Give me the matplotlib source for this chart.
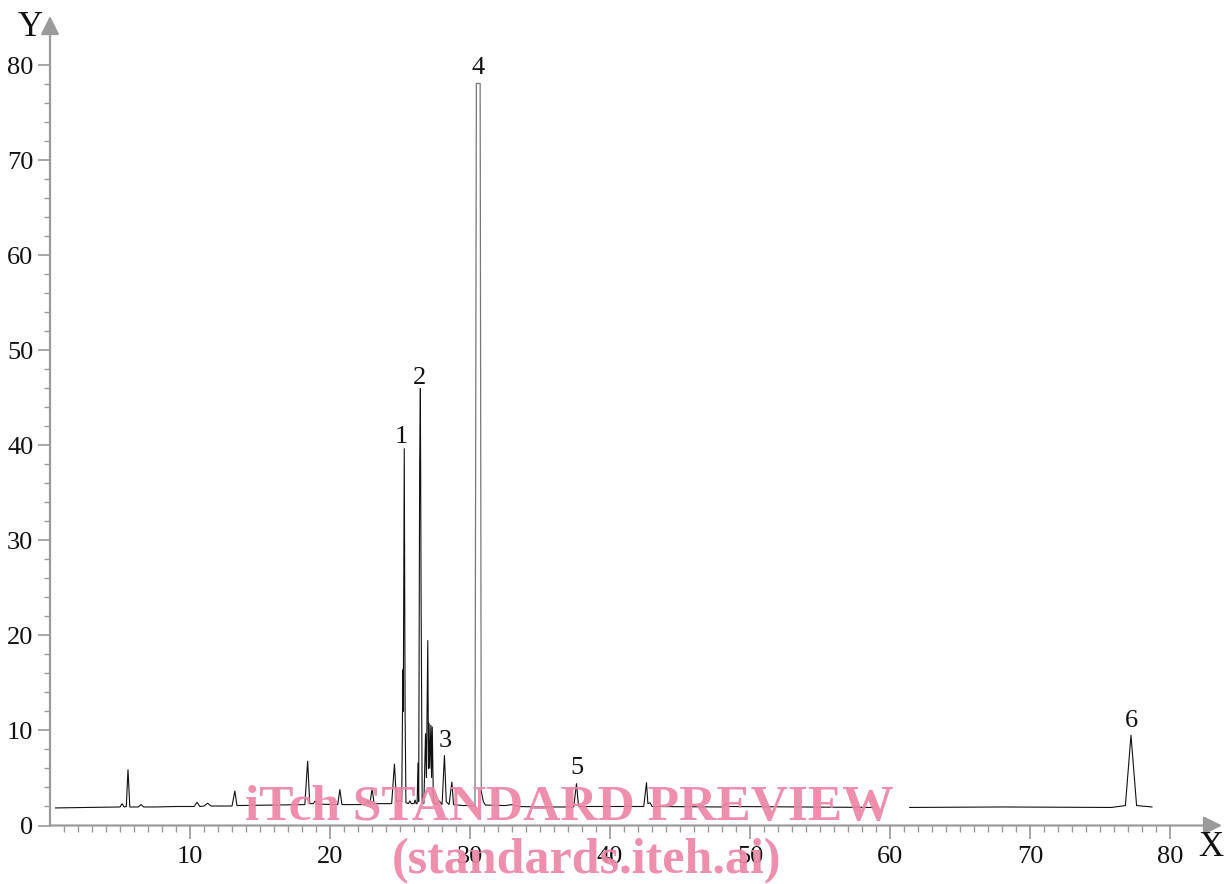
import numpy as np
import matplotlib
matplotlib.use("Agg")
import matplotlib.pyplot as plt
from matplotlib.ticker import MultipleLocator, FixedLocator

# ---- data: chromatogram trace vertices (retention time, response) ----
trace_x = [0.4, 5.0, 5.15, 5.3, 5.45, 5.57, 5.7, 6.3, 6.5, 6.7, 7.5, 9.0, 10.3, 10.5, 10.7,
           11.0, 11.25, 11.5, 13.0, 13.2, 13.35, 18.2, 18.4, 18.55, 18.8, 18.95, 19.1,
           20.55, 20.7, 20.85, 22.5, 22.7, 22.85, 23.0, 23.15, 24.4, 24.6, 24.75, 24.95,
           25.12, 25.2, 25.23, 25.3, 25.36, 25.42, 25.6, 25.7, 25.8, 26.0, 26.07, 26.15,
           26.22, 26.28, 26.33, 26.4, 26.45, 26.5, 26.58, 26.7, 26.82, 26.88, 26.98, 27.03,
           27.07, 27.12, 27.2, 27.25, 27.3, 27.38, 27.6, 27.8, 28.0, 28.17, 28.3, 28.5,
           28.7, 28.82, 29.5, 30.35, 30.45, 30.72, 30.8, 30.95, 31.1, 32.5, 33.0, 33.5,
           35.0, 37.4, 37.6, 37.75, 42.4, 42.6, 42.7, 42.85, 43.0, 48.1, 48.3, 48.45,
           58.8, 59.0, 61.4, 68.0, 75.8, 76.8, 77.2, 77.6, 78.7]
trace_y = [1.85, 1.95, 2.3, 1.95, 2.0, 5.9, 1.95, 1.95, 2.2, 1.95, 1.95, 2.0, 2.0, 2.45, 2.0,
           2.05, 2.35, 2.05, 2.05, 3.65, 2.1, 2.2, 6.8, 2.3, 2.3, 2.6, 2.25,
           2.2, 3.8, 2.2, 2.2, 2.6, 2.3, 3.9, 2.3, 2.3, 6.5, 2.5, 2.6,
           2.5, 16.4, 12.0, 39.7, 11.8, 2.4, 2.3, 2.6, 2.3, 2.3, 2.7, 2.3,
           2.3, 6.6, 2.5, 38.0, 46.0, 24.5, 2.5, 2.3, 9.7, 5.0, 19.5, 6.0,
           10.8, 6.0, 10.6, 5.0, 10.4, 2.5, 2.2, 2.6, 2.2, 7.4, 2.5, 2.2,
           4.6, 2.2, 2.1, 2.1, 78.1, 78.1, 3.6, 2.5, 2.15, 2.1, 2.2, 2.0,
           1.95, 1.95, 4.4, 2.0, 2.0, 4.5, 2.3, 2.4, 2.0, 1.95, 2.4, 2.0,
           1.9, np.nan, 1.9, 1.95, 1.9, 2.1, 9.5, 2.1, 1.95]

peak_labels = ["1", "2", "3", "4", "5", "6"]
peak_label_x = [25.1, 26.4, 28.2, 30.6, 37.6, 77.2]
peak_label_y = [40.9, 47.1, 8.9, 79.7, 6.1, 11.0]

x_major = [10, 20, 30, 40, 50, 60, 70, 80]
y_major = [0, 10, 20, 30, 40, 50, 60, 70, 80]

# ---- figure ----
W, H = 1227, 884
fig = plt.figure(figsize=(W / 100, H / 100), dpi=100)
ax_left, ax_bottom = 50 / W, (H - 825.5) / H
ax_w, ax_h = (1222 - 50) / W, (825.5 - 16) / H
ax = fig.add_axes([ax_left, ax_bottom, ax_w, ax_h])
ax.set_xlim(0, 83.7)
ax.set_ylim(0, 85.2)

serif = ["Liberation Serif", "DejaVu Serif"]
axis_col = "#9a9a9a"

tx = np.array(trace_x)
ty = np.array(trace_y)
m1 = tx <= 30.35
m2 = (tx >= 30.35) & (tx <= 30.8)
m3 = tx >= 30.8
ax.plot(tx[m1], ty[m1], color="#111111", lw=0.8, solid_joinstyle="miter", zorder=3)
ax.plot(tx[m2], ty[m2], color="#777777", lw=0.9, zorder=3)
ax.plot(tx[m3], ty[m3], color="#111111", lw=0.8, zorder=3)

for s in ax.spines.values():
    s.set_visible(False)

ax.annotate("", xy=(1, 0), xytext=(0, 0), xycoords="axes fraction",
            arrowprops=dict(arrowstyle="-|>", color=axis_col, lw=1.6,
                            mutation_scale=28, shrinkA=0, shrinkB=0), zorder=2)
ax.annotate("", xy=(0, 1), xytext=(0, 0), xycoords="axes fraction",
            arrowprops=dict(arrowstyle="-|>", color=axis_col, lw=1.6,
                            mutation_scale=28, shrinkA=0, shrinkB=0), zorder=2)

ax.xaxis.set_major_locator(FixedLocator(x_major))
ax.xaxis.set_minor_locator(FixedLocator([v for v in range(1, 80) if v % 10 != 0]))
ax.yaxis.set_major_locator(FixedLocator(y_major))
ax.yaxis.set_minor_locator(FixedLocator([v for v in range(2, 81, 2) if v % 10 != 0]))
ax.tick_params(axis="both", which="major", direction="out", length=9, width=1.2,
               color=axis_col, labelsize=19, labelcolor="#111111")
ax.tick_params(axis="both", which="minor", direction="out", length=4.5, width=1.0,
               color=axis_col)
ax.tick_params(axis="x", which="major", pad=6)
ax.tick_params(axis="y", which="major", pad=3)
for lab in ax.get_xticklabels() + ax.get_yticklabels():
    lab.set_fontfamily(serif)
ax.set_xticklabels([str(v) for v in x_major], fontfamily=serif, fontsize=19)
ax.set_yticklabels([str(v) for v in y_major], fontfamily=serif, fontsize=19)

fig.text(30 / W, 1 - 28 / H, "Y", fontsize=25, family=serif, ha="center", va="center", color="#111111")
fig.text(1211 / W, 1 - 847 / H, "X", fontsize=25, family=serif, ha="center", va="center", color="#111111")

for lbl, lx, ly in zip(peak_labels, peak_label_x, peak_label_y):
    ax.text(lx, ly, lbl, fontsize=19, family=serif, ha="center", va="center",
            color="#111111", zorder=4)

wm_col = "#ec86a6"
fig.text(569 / W, 1 - 820 / H, "iTch STANDARD PREVIEW", fontsize=37, fontweight="bold",
         family=serif, ha="center", va="baseline", color=wm_col, alpha=0.92, zorder=10)
fig.text(586 / W, 1 - 873 / H, "(standards.iteh.ai)", fontsize=36, fontweight="bold",
         family=serif, ha="center", va="baseline", color=wm_col, alpha=0.92, zorder=10)

fig.savefig("out.png", dpi=100)
